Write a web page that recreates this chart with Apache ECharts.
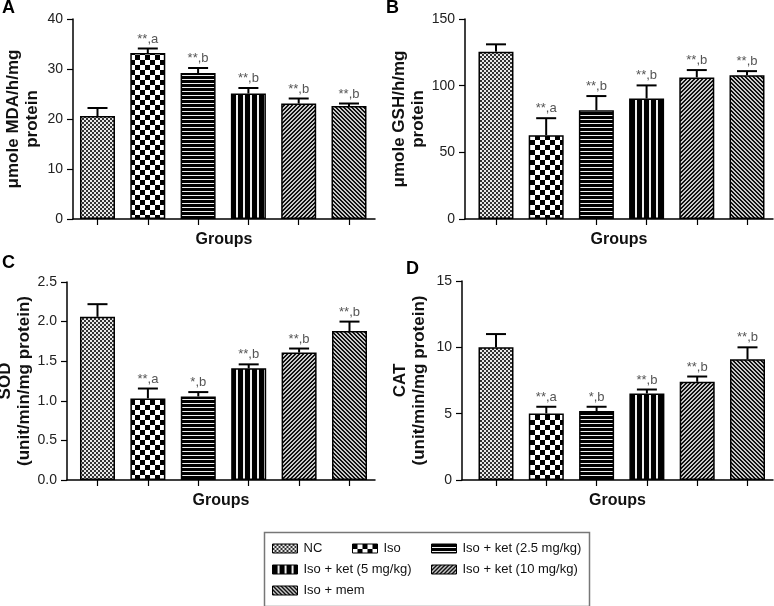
<!DOCTYPE html>
<html>
<head>
<meta charset="UTF-8">
<title>Oxidative stress markers</title>
<script src="https://cdn.jsdelivr.net/npm/echarts@6/dist/echarts.min.js"></script>
<style>
  html, body { margin: 0; padding: 0; background: #fff; }
  #main { width: 774px; height: 606px; }
</style>
</head>
<body>
<div id="main"></div>
<script>
// groups (same order in every panel)
var groups = ['NC', 'Iso', 'Iso + ket (2.5 mg/kg)', 'Iso + ket (5 mg/kg)', 'Iso + ket (10 mg/kg)', 'Iso + mem'];

// A - MDA
var mdaMean = [20.6, 33.2, 29.2, 25.1, 23.1, 22.6];
var mdaErr = [1.6, 0.9, 1.0, 1.1, 1.0, 0.5];
var mdaSig = ['', '**,a', '**,b', '**,b', '**,b', '**,b'];
// B - GSH
var gshMean = [125.5, 62.9, 81.6, 90.4, 106.2, 107.9];
var gshErr = [5.5, 12.7, 10.6, 9.8, 5.5, 3.0];
var gshSig = ['', '**,a', '**,b', '**,b', '**,b', '**,b'];
// C - SOD
var sodMean = [2.06, 1.03, 1.055, 1.41, 1.61, 1.88];
var sodErr = [0.16, 0.125, 0.055, 0.05, 0.05, 0.12];
var sodSig = ['', '**,a', '*,b', '**,b', '**,b', '**,b'];
// D - CAT
var catMean = [10.0, 5.02, 5.2, 6.52, 7.4, 9.1];
var catErr = [1.0, 0.5, 0.32, 0.3, 0.4, 0.9];
var catSig = ['', '**,a', '*,b', '**,b', '**,b', '**,b'];

var FONT = "'Liberation Sans', Arial, sans-serif";

// little canvas tiles used as bar fills
function tile(w, h, fn) {
    var c = document.createElement('canvas');
    c.width = w; c.height = h;
    var ctx = c.getContext('2d');
    for (var y = 0; y < h; y++) {
        for (var x = 0; x < w; x++) {
            ctx.fillStyle = fn(x, y);
            ctx.fillRect(x, y, 1, 1);
        }
    }
    return { image: c, repeat: 'repeat' };
}
var fills = [
    tile(4, 4, function (x, y) { return ((x >> 1) + (y >> 1)) % 2 ? '#e8e8e8' : '#333'; }),
    tile(10, 10, function (x, y) { return (Math.floor(x / 5) + Math.floor(y / 5)) % 2 ? '#fff' : '#000'; }),
    tile(4, 4, function (x, y) { return y === 3 ? '#eee' : '#000'; }),
    tile(7, 7, function (x, y) { return x >= 5 ? '#eee' : '#000'; }),
    tile(4, 4, function (x, y) { return (x + y) % 4 < 2 ? '#111' : '#c8c8c8'; }),
    tile(4, 4, function (x, y) { return ((x - y) % 4 + 4) % 4 < 2 ? '#111' : '#c8c8c8'; })
];

var panels = [
    { letter: 'A', mean: mdaMean, err: mdaErr, sig: mdaSig, max: 40, step: 10, dec: 0,
      name: 'μmole MDA/h/mg\nprotein', nameGap: 31,
      grid: { left: 73, top: 19, width: 302, height: 200 }, xMin: -0.487, xMax: 5.517,
      title: { left: 2, top: -1 } },
    { letter: 'B', mean: gshMean, err: gshErr, sig: gshSig, max: 150, step: 50, dec: 0,
      name: 'μmole GSH/h/mg\nprotein', nameGap: 35,
      grid: { left: 465, top: 19, width: 308, height: 200 }, xMin: -0.617, xMax: 5.518,
      title: { left: 386, top: -1 } },
    { letter: 'C', mean: sodMean, err: sodErr, sig: sodSig, max: 2.5, step: 0.5, dec: 1,
      name: 'SOD\n(unit/min/mg protein)', nameGap: 23,
      grid: { left: 67, top: 282, width: 308, height: 198 }, xMin: -0.605, xMax: 5.506,
      title: { left: 2, top: 254 } },
    { letter: 'D', mean: catMean, err: catErr, sig: catSig, max: 15, step: 5, dec: 0,
      name: 'CAT\n(unit/min/mg protein)', nameGap: 33,
      grid: { left: 462, top: 281, width: 311, height: 199 }, xMin: -0.676, xMax: 5.507,
      title: { left: 406, top: 260 } }
];

var grids = [], xAxes = [], yAxes = [], titles = [], series = [];

panels.forEach(function (p, k) {
    grids.push(Object.assign({ containLabel: false, outerBoundsMode: 'none' }, p.grid));
    titles.push({
        text: p.letter, left: p.title.left, top: p.title.top, padding: 0,
        textStyle: { fontFamily: FONT, fontSize: 18, fontWeight: 'bold', color: '#000' }
    });
    xAxes.push({
        type: 'value', gridIndex: k, min: p.xMin, max: p.xMax,
        name: 'Groups', nameLocation: 'middle', nameGap: 13,
        nameTextStyle: { fontFamily: FONT, fontSize: 16, fontWeight: 'bold', color: '#111' },
        axisLine: { show: true, onZero: false, lineStyle: { color: '#000', width: 1.5 } },
        axisTick: { show: true, length: 6, lineStyle: { color: '#000', width: 1.2 },
                    customValues: [0, 1, 2, 3, 4, 5] },
        axisLabel: { show: false },
        splitLine: { show: false }
    });
    yAxes.push({
        type: 'value', gridIndex: k, min: 0, max: p.max, interval: p.step,
        name: p.name, nameLocation: 'middle', nameRotate: 90, nameGap: p.nameGap,
        nameTextStyle: { fontFamily: FONT, fontSize: 17, fontWeight: 'bold', color: '#111', lineHeight: 19 },
        axisLine: { show: true, onZero: false, lineStyle: { color: '#000', width: 1.5 } },
        axisTick: { show: true, length: 6, lineStyle: { color: '#000', width: 1.2 } },
        axisLabel: {
            fontFamily: FONT, fontSize: 14, color: '#222', margin: 10,
            formatter: function (v) { return v.toFixed(p.dec); }
        },
        splitLine: { show: false }
    });

    groups.forEach(function (g, i) {
        series.push({
            type: 'bar', name: g, xAxisIndex: k, yAxisIndex: k,
            barWidth: 35, barGap: '-100%',
            data: [[i, p.mean[i]]],
            itemStyle: { color: fills[i], borderColor: '#000', borderWidth: 1.5 },
            emphasis: { disabled: true }
        });
    });

    // error bars (upper whisker only) + significance text
    series.push({
        type: 'custom', name: 'err' + k, xAxisIndex: k, yAxisIndex: k, z: 5,
        data: p.mean.map(function (m, i) { return [i, m, p.err[i]]; }),
        renderItem: function (params, api) {
            var x = api.value(0), m = api.value(1), e = api.value(2);
            var a = api.coord([x, m]);
            var b = api.coord([x, m + e]);
            var children = [
                { type: 'line', shape: { x1: a[0], y1: a[1], x2: b[0], y2: b[1] },
                  style: { stroke: '#000', lineWidth: 2 } },
                { type: 'line', shape: { x1: b[0] - 10, y1: b[1], x2: b[0] + 10, y2: b[1] },
                  style: { stroke: '#000', lineWidth: 2 } }
            ];
            var s = p.sig[params.dataIndex];
            if (s) {
                children.push({
                    type: 'text',
                    style: { text: s, x: b[0], y: b[1] - 3, align: 'center', verticalAlign: 'bottom',
                             fill: '#555', font: '13px ' + FONT }
                });
            }
            return { type: 'group', children: children };
        }
    });
});

var legendBase = {
    orient: 'vertical', top: 537, height: 90, itemWidth: 25, itemHeight: 9, itemGap: 8,
    icon: 'rect', selectedMode: false,
    itemStyle: { borderColor: '#000', borderWidth: 1 },
    textStyle: { fontFamily: FONT, fontSize: 13, color: '#111', padding: [0, 0, 0, 1] }
};

var option = {
    animation: false,
    backgroundColor: '#fff',
    textStyle: { fontFamily: FONT },
    title: titles,
    grid: grids,
    xAxis: xAxes,
    yAxis: yAxes,
    legend: [
        Object.assign({}, legendBase, { left: 267, data: [groups[0], groups[3], groups[5]] }),
        Object.assign({}, legendBase, { left: 347, data: [groups[1]] }),
        Object.assign({}, legendBase, { left: 426, data: [groups[2], groups[4]] })
    ],
    graphic: [{
        type: 'rect', left: 262, top: 530,
        shape: { width: 325, height: 74 },
        style: { fill: 'none', stroke: '#777', lineWidth: 1.5 }
    }],
    series: series
};

var chart = echarts.init(document.getElementById('main'), null, { renderer: 'canvas' });
chart.setOption(option);
</script>
</body>
</html>
